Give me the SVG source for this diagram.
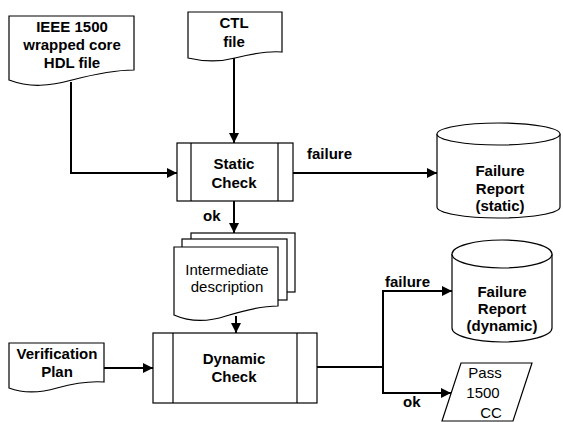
<svg xmlns="http://www.w3.org/2000/svg" width="563" height="422" viewBox="0 0 563 422">
<style>
.s{fill:#fff;stroke:#000;stroke-width:1.2}
.c{fill:none;stroke:#000;stroke-width:2}
.b{font-family:"Liberation Sans",Arial,sans-serif;font-size:15px;font-weight:bold;text-anchor:middle;fill:#000}
.n{font-family:"Liberation Sans",Arial,sans-serif;font-size:15px;text-anchor:middle;fill:#000}
.l{font-family:"Liberation Sans",Arial,sans-serif;font-size:15px;font-weight:bold;fill:#000}
</style>
<defs>
<marker id="a" viewBox="0 0 10 10" refX="10" refY="5" markerWidth="5" markerHeight="5" orient="auto" markerUnits="strokeWidth">
<path d="M0,0 L10,5 L0,10 Z" fill="#000"/>
</marker>
</defs>
<rect width="563" height="422" fill="#fff"/>
<g id="ieee">
<path class="s" d="M9,16 H134 V70 C115,70 95,74 72,80 C50,86 30,88 9,80 Z"/>
<text class="b" x="72" y="32">IEEE 1500</text>
<text class="b" x="72" y="50">wrapped core</text>
<text class="b" x="72" y="68">HDL file</text>
</g>
<g id="ctl">
<path class="s" d="M188,12 H282 V52 C270,51 255,53 235,58 C220,62 205,62 188,58 Z"/>
<text class="b" x="234" y="28">CTL</text>
<text class="b" x="234" y="47">file</text>
</g>
<g id="static">
<rect class="s" x="177" y="143" width="116" height="58"/>
<line class="s" x1="191" y1="143" x2="191" y2="201"/>
<line class="s" x1="278" y1="143" x2="278" y2="201"/>
<text class="b" x="234" y="169">Static</text>
<text class="b" x="234" y="188">Check</text>
</g>
<g id="frs">
<path class="s" d="M437,134 V207 A61.5,11 0 0 0 560,207 V134"/>
<ellipse class="s" cx="498.5" cy="134" rx="61.5" ry="11"/>
<text class="b" x="500" y="176">Failure</text>
<text class="b" x="500" y="194">Report</text>
<text class="b" x="500" y="211">(static)</text>
</g>
<g id="inter">
<rect class="s" x="191" y="233" width="104" height="59"/>
<rect class="s" x="182" y="239" width="105" height="61"/>
<path class="s" d="M174,247 H278 V306 C262,306 245,310 226,316 C208,322 190,322 174,315 Z"/>
<text class="n" x="227" y="275">Intermediate</text>
<text class="n" x="227" y="292">description</text>
</g>
<g id="verif">
<path class="s" d="M9,343 H104 V382 C90,381 75,383 57,388 C40,393 25,394 9,388 Z"/>
<text class="b" x="57" y="359">Verification</text>
<text class="b" x="57" y="377">Plan</text>
</g>
<g id="dynamic">
<rect class="s" x="153" y="333" width="164" height="70"/>
<line class="s" x1="173" y1="333" x2="173" y2="403"/>
<line class="s" x1="297" y1="333" x2="297" y2="403"/>
<text class="b" x="234" y="364">Dynamic</text>
<text class="b" x="234" y="382">Check</text>
</g>
<g id="frd">
<path class="s" d="M452,254 V328 A50,14 0 0 0 552,328 V254"/>
<ellipse class="s" cx="502" cy="254" rx="50" ry="14"/>
<text class="b" x="502" y="297">Failure</text>
<text class="b" x="502" y="314">Report</text>
<text class="b" x="502" y="331">(dynamic)</text>
</g>
<g id="pass">
<path class="s" d="M461,363 H532 L513,421 H442 Z"/>
<text class="n" x="485" y="378">Pass</text>
<text class="n" x="483" y="398">1500</text>
<text class="n" x="491" y="418">CC</text>
</g>
<g id="connectors">
<polyline class="c" points="71,82 71,173 177,173" marker-end="url(#a)"/>
<line class="c" x1="234" y1="58" x2="234" y2="143" marker-end="url(#a)"/>
<line class="c" x1="293" y1="173" x2="437" y2="173" marker-end="url(#a)"/>
<line class="c" x1="234" y1="201" x2="234" y2="233" marker-end="url(#a)"/>
<line class="c" x1="236" y1="316" x2="236" y2="333" marker-end="url(#a)"/>
<line class="c" x1="104" y1="368" x2="153" y2="368" marker-end="url(#a)"/>
<line class="c" x1="317" y1="367" x2="383" y2="367"/>
<polyline class="c" points="452,291 383,291 383,393 451,393" marker-end="url(#a)"/>
<line class="c" x1="383" y1="291" x2="452" y2="291" marker-end="url(#a)"/>
<text class="l" x="307" y="159">failure</text>
<text class="l" x="203" y="221">ok</text>
<text class="l" x="385" y="287">failure</text>
<text class="l" x="403" y="407">ok</text>
</g>
</svg>
